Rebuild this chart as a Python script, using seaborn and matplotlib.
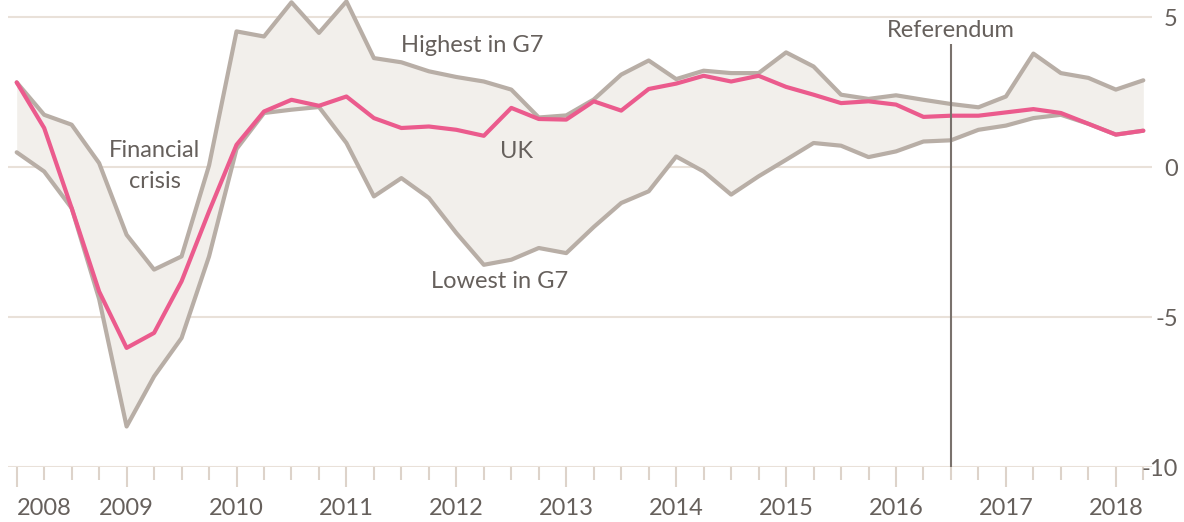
import pandas as pd
import seaborn as sns
from matplotlib import pyplot as plt
from matplotlib.ticker import FixedLocator

# quarterly GDP growth, % year on year, 2008 Q1 - 2018 Q2
quarters = pd.period_range("2008Q1", "2018Q2", freq="Q")
uk = [2.82, 1.30, -1.37, -4.15, -6.03, -5.53, -3.81, -1.48, 0.74, 1.85,
      2.24, 2.04, 2.35, 1.63, 1.30, 1.35, 1.24, 1.04, 1.97, 1.60, 1.58,
      2.19, 1.88, 2.60, 2.78, 3.04, 2.85, 3.04, 2.67, 2.41, 2.13,
      2.19, 2.08, 1.67, 1.71, 1.71, 1.82, 1.93, 1.80, 1.44, 1.08, 1.21]
g7_high = [2.82, 1.74, 1.41, 0.13, -2.26, -3.42, -2.98, 0.05, 4.52, 4.35,
           5.49, 4.47, 5.52, 3.63, 3.49, 3.19, 3.00, 2.85, 2.58, 1.65, 1.72,
           2.25, 3.08, 3.55, 2.93, 3.21, 3.13, 3.13, 3.82, 3.35, 2.41,
           2.27, 2.39, 2.24, 2.10, 1.99, 2.35, 3.78, 3.13, 2.97, 2.58, 2.89]
g7_low = [0.49, -0.15, -1.37, -4.40, -8.65, -6.98, -5.70, -2.98, 0.60, 1.80,
          1.91, 2.00, 0.80, -0.98, -0.37, -1.03, -2.20, -3.26, -3.09, -2.70, -2.87,
          -2.00, -1.20, -0.81, 0.35, -0.15, -0.92, -0.31, 0.24, 0.80, 0.71,
          0.33, 0.52, 0.85, 0.89, 1.24, 1.38, 1.63, 1.74, 1.44, 1.08, 1.21]
years = list(range(2008, 2019))
yticks = [-10, -5, 0, 5]
referendum = 2016.5

df = pd.DataFrame({
    "t": [q.year + (q.quarter - 1) / 4 for q in quarters],
    "uk": uk, "high": g7_high, "low": g7_low,
})

sns.set_style("white")
plt.rcParams["font.family"] = ["Lato", "DejaVu Sans"]
TXT = "#66605c"
GREY = "#b8aea6"
PINK = "#eb5b8d"
GRID = "#e9e1d9"

fig = plt.figure(figsize=(11.84, 5.22), dpi=100)
ax = fig.add_axes([8.3 / 1184, 55 / 522, (1152 - 8.3) / 1184, 467 / 522])

ax.fill_between(df["t"], df["low"], df["high"], color="#f2efeb", lw=0, zorder=1)
sns.lineplot(data=df, x="t", y="high", ax=ax, color=GREY, lw=3, zorder=2, clip_on=False)
sns.lineplot(data=df, x="t", y="low", ax=ax, color=GREY, lw=3, zorder=2, clip_on=False)
sns.lineplot(data=df, x="t", y="uk", ax=ax, color=PINK, lw=3, zorder=3, clip_on=False)

ax.vlines(referendum, -10, 4.1, color="#7a726d", lw=1.5, zorder=4)

ax.set_xlim(2008 - 8.4 / 110, 2018.25 + 8.7 / 110)
ax.set_ylim(-10, -10 + 467 / 30)

for s in ax.spines.values():
    s.set_visible(False)
ax.set_axisbelow(True)
ax.yaxis.set_major_locator(FixedLocator(yticks))
ax.set_yticks(yticks)
ax.set_yticklabels([str(v) for v in yticks])
ax.yaxis.tick_right()
ax.grid(axis="y", color=GRID, lw=1.5)
ax.tick_params(axis="y", length=0, pad=18.5, labelsize=17, labelcolor=TXT)
for lab in ax.get_yticklabels():
    lab.set_horizontalalignment("right")

ax.set_xticks(years)
ax.set_xticklabels([str(y) for y in years])
ax.set_xticks(df["t"], minor=True)
ax.tick_params(axis="x", which="major", direction="out", length=14.5, width=1.5,
               color="#ddd3ca", pad=8, labelsize=17, labelcolor=TXT, bottom=True)
ax.tick_params(axis="x", which="minor", direction="out", length=9.5, width=1.5,
               color="#ddd3ca", bottom=True)
ax.get_xticklabels()[0].set_horizontalalignment("left")
ax.set_xlabel("")
ax.set_ylabel("")

kw = dict(color=TXT, fontsize=17, ha="center", va="center")
ax.text(2009.257, 0.04, "Financial\ncrisis", linespacing=1.6, **kw)
ax.text(2012.14, 4.04, "Highest in G7", **kw)
ax.text(2012.55, 0.51, "UK", **kw)
ax.text(2012.39, -3.83, "Lowest in G7", **kw)
ax.text(referendum, 4.54, "Referendum", **kw)

plt.savefig("out.png", dpi=100)
